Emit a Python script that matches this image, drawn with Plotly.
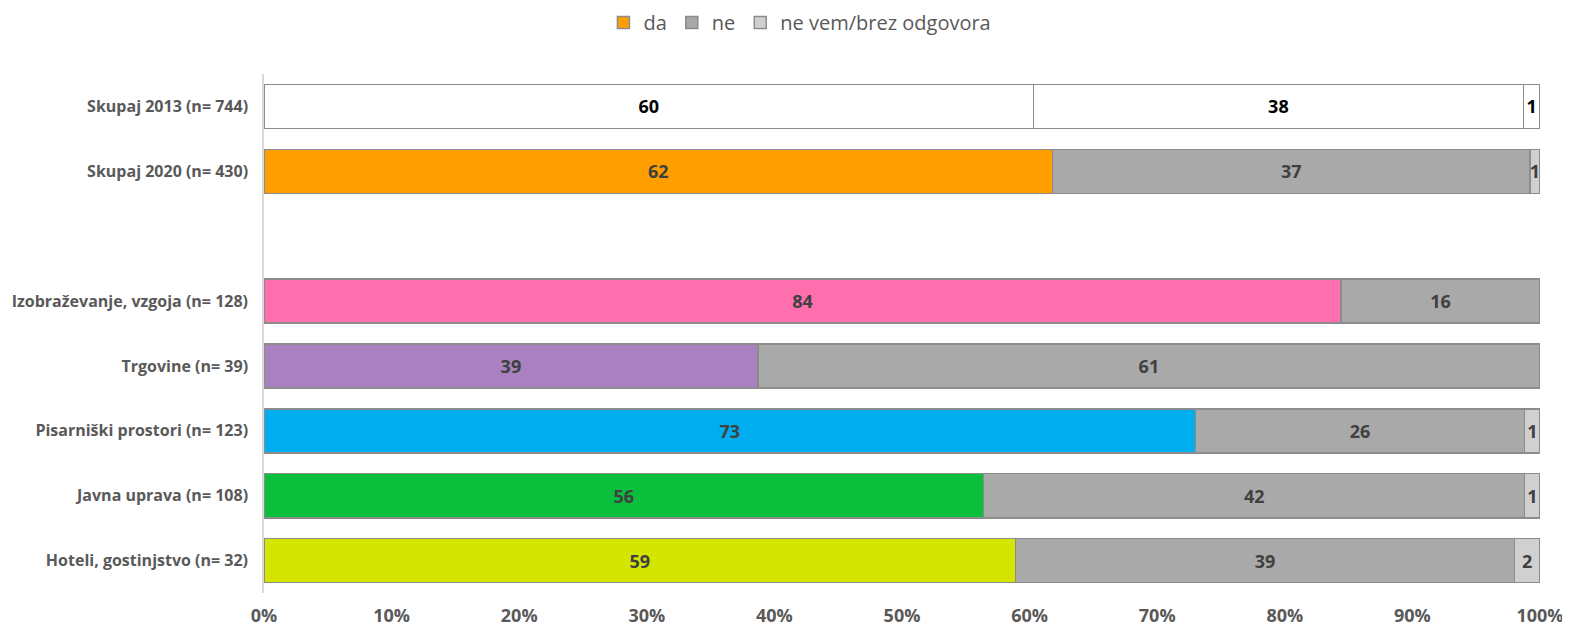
import plotly.graph_objects as go

# kategorije od zgoraj navzdol, " " je prazna vrstica
categories = ["Skupaj 2013 (n= 744)", "Skupaj 2020 (n= 430)", " ",
              "Izobraževanje, vzgoja (n= 128)", "Trgovine (n= 39)",
              "Pisarniški prostori (n= 123)", "Javna uprava (n= 108)",
              "Hoteli, gostinjstvo (n= 32)"]
da = [60.3, 61.8, None, 84.4, 38.7, 73.0, 56.4, 58.9]
ne = [38.4, 37.4, None, 15.6, 61.3, 25.8, 42.4, 39.1]
ne_vem = [1.3, 0.8, None, None, None, 1.2, 1.2, 2.0]
da_colors = ["#FFFFFF", "#FF9E00", "#FFFFFF", "#FF6FAE", "#A980C0",
             "#00ADEE", "#0ABF3C", "#D4E600"]
tick_vals = [0, 10, 20, 30, 40, 50, 60, 70, 80, 90, 100]
tick_text = [f"{t}%" for t in tick_vals]

txt_col = ["#000000" if i == 0 else "#404040" for i in range(len(categories))]
ne_colors = ["#FFFFFF" if i == 0 else "#A9A9AA" for i in range(len(categories))]
nv_colors = ["#FFFFFF" if i == 0 else "#D0D0D0" for i in range(len(categories))]

outline = dict(color="#8C8C8C", width=1.5)

fig = go.Figure()
for name, vals, cols, leg in [("da", da, da_colors, "#FF9E00"),
                              ("ne", ne, ne_colors, "#A9A9AA"),
                              ("ne vem/brez odgovora", ne_vem, nv_colors, "#D0D0D0")]:
    fig.add_trace(go.Bar(
        y=categories, x=vals, name=name, orientation="h",
        marker=dict(color=cols, line=outline),
        text=[None if v is None else f"{v:.0f}" for v in vals],
        textposition="inside", insidetextanchor="middle",
        textfont=dict(family="Open Sans", size=18, color=txt_col, weight="bold"),
        showlegend=False,
    ))
    # legenda z enotno barvo
    fig.add_trace(go.Bar(y=[None], x=[None], name=name, orientation="h",
                         marker=dict(color=leg, line=dict(color="#8C8C8C", width=1.5))))

# stran ima 8px roba, zato je slika zamaknjena
fig.update_layout(
    barmode="stack", bargap=0.32,
    width=1562, height=624,
    margin=dict(l=256, r=30, t=65.5, b=38.5, autoexpand=False),
    plot_bgcolor="white", paper_bgcolor="white",
    uniformtext=dict(minsize=17, mode="show"),
    font=dict(family="Open Sans", color="#595959"),
    legend=dict(orientation="h", x=0.42, xanchor="center", y=1.099, yanchor="middle",
                font=dict(size=20, color="#595959"), itemwidth=30, traceorder="normal"),
    xaxis=dict(range=[0, 100], tickvals=tick_vals, ticktext=tick_text,
               showgrid=False, zeroline=False, showline=False,
               ticks="outside", ticklen=6, tickcolor="white",
               tickfont=dict(size=18, color="#595959", weight="bold")),
    yaxis=dict(categoryorder="array", categoryarray=categories, autorange="reversed",
               showgrid=False, showline=True, linecolor="#D9D9D9", linewidth=1.5,
               ticks="outside", ticklen=11, tickcolor="white",
               tickfont=dict(size=16, color="#595959", weight="bold")),
)

fig.write_html("out.html")
